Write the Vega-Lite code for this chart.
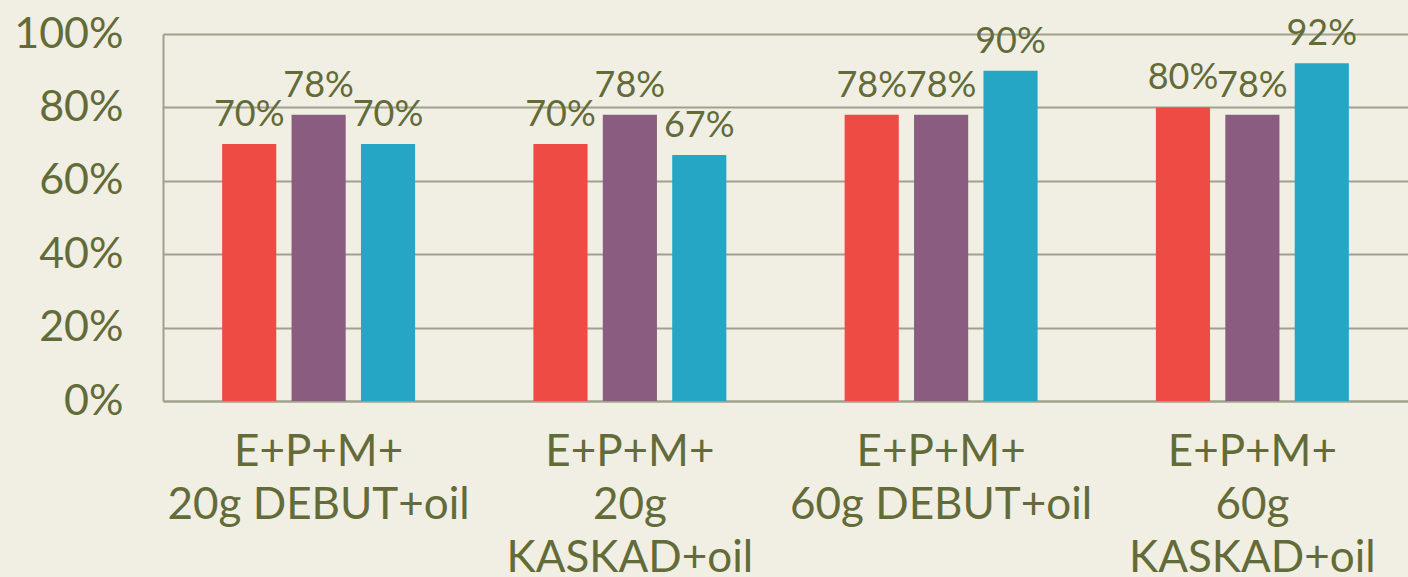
{
  "$schema": "https://vega.github.io/schema/vega-lite/v6.json",
  "width": 1245,
  "height": 367,
  "autosize": "none",
  "padding": {"left": 163, "top": 34, "right": 0, "bottom": 176},
  "background": "#F1EFE4",
  "config": {
    "view": {"stroke": null},
    "font": "Lato"
  },
  "data": {
    "values": [
      {"group": "E+P+M+|20g DEBUT+oil", "series": "Series 1", "value": 0.70},
      {"group": "E+P+M+|20g DEBUT+oil", "series": "Series 2", "value": 0.78},
      {"group": "E+P+M+|20g DEBUT+oil", "series": "Series 3", "value": 0.70},
      {"group": "E+P+M+|20g|KASKAD+oil", "series": "Series 1", "value": 0.70},
      {"group": "E+P+M+|20g|KASKAD+oil", "series": "Series 2", "value": 0.78},
      {"group": "E+P+M+|20g|KASKAD+oil", "series": "Series 3", "value": 0.67},
      {"group": "E+P+M+|60g DEBUT+oil", "series": "Series 1", "value": 0.78},
      {"group": "E+P+M+|60g DEBUT+oil", "series": "Series 2", "value": 0.78},
      {"group": "E+P+M+|60g DEBUT+oil", "series": "Series 3", "value": 0.90},
      {"group": "E+P+M+|60g|KASKAD+oil", "series": "Series 1", "value": 0.80},
      {"group": "E+P+M+|60g|KASKAD+oil", "series": "Series 2", "value": 0.78},
      {"group": "E+P+M+|60g|KASKAD+oil", "series": "Series 3", "value": 0.92}
    ]
  },
  "encoding": {
    "x": {
      "field": "group",
      "type": "nominal",
      "sort": null,
      "scale": {"paddingInner": 0.38, "paddingOuter": 0.19},
      "axis": {
        "title": null,
        "labelAngle": 0,
        "labelExpr": "split(datum.label, '|')",
        "labelFont": "Lato",
        "labelFontSize": 44,
        "labelColor": "#636B38",
        "labelLineHeight": 53,
        "labelPadding": 29,
        "labelLimit": 0,
        "labelOverlap": false,
        "ticks": false,
        "domain": true,
        "domainColor": "#A0A18C",
        "domainWidth": 2,
        "labelBaseline": "top"
      }
    },
    "xOffset": {
      "field": "series",
      "type": "nominal",
      "scale": {"paddingInner": 0.22}
    },
    "y": {
      "field": "value",
      "type": "quantitative",
      "scale": {"domain": [0, 1]},
      "axis": {
        "title": null,
        "values": [0, 0.2, 0.4, 0.6, 0.8, 1],
        "format": ".0%",
        "labelFont": "Lato",
        "labelFontSize": 43,
        "labelColor": "#636B38",
        "labelPadding": 40,
        "labelLimit": 0,
        "ticks": false,
        "grid": true,
        "gridColor": "#A0A18C",
        "gridWidth": 2,
        "domain": true,
        "domainColor": "#A0A18C",
        "domainWidth": 2
      }
    }
  },
  "layer": [
    {
      "mark": {"type": "bar"},
      "encoding": {
        "color": {
          "field": "series",
          "type": "nominal",
          "scale": {"range": ["#EF4B45", "#8A5D80", "#25A6C5"]},
          "legend": null
        }
      }
    },
    {
      "mark": {
        "type": "text",
        "baseline": "alphabetic",
        "dy": -18,
        "fontSize": 36,
        "font": "Lato",
        "color": "#636B38"
      },
      "encoding": {
        "text": {"field": "value", "type": "quantitative", "format": ".0%"}
      }
    }
  ]
}
